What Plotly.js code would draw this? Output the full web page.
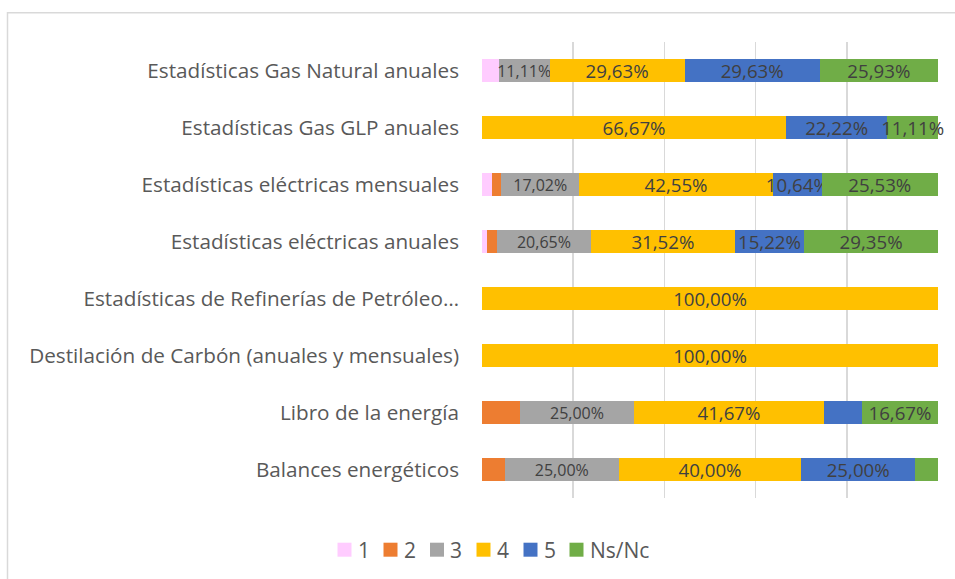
<!DOCTYPE html>
<html>
<head>
<meta charset="utf-8">
<script src="https://cdn.plot.ly/plotly-3.0.1.min.js"></script>
<style>
  html, body { margin: 0; padding: 0; background: #ffffff; }
  #chart { width: 955px; height: 579px; }
</style>
</head>
<body>
<div id="chart"></div>
<script>
const categories = [
  "Estadísticas Gas Natural anuales",
  "Estadísticas Gas GLP anuales",
  "Estadísticas eléctricas mensuales",
  "Estadísticas eléctricas anuales",
  "Estadísticas de Refinerías de Petróleo…",
  "Destilación de Carbón (anuales y mensuales)",
  "Libro de la energía",
  "Balances energéticos"
];
const seriesNames = ["1", "2", "3", "4", "5", "Ns/Nc"];
const s1   = [3.70, 0,     2.13,  1.09,  0,   0,   0,     0];
const s2   = [0,    0,     2.13,  2.17,  0,   0,   8.33,  5.00];
const s3   = [11.11, 0,    17.02, 20.65, 0,   0,   25.00, 25.00];
const s4   = [29.63, 66.67, 42.55, 31.52, 100.00, 100.00, 41.67, 40.00];
const s5   = [29.63, 22.22, 10.64, 15.22, 0,   0,   8.33,  25.00];
const sNs  = [25.93, 11.11, 25.53, 29.35, 0,   0,   16.67, 5.00];
const seriesValues = [s1, s2, s3, s4, s5, sNs];
const colors = ["#FFCCFF", "#ED7D31", "#A5A5A5", "#FFC000", "#4472C4", "#70AD47"];
const labelSizes = [18.7, 18.7, 16, 18.7, 18.7, 18.7];

function fmt(v) {
  return v >= 10 ? v.toFixed(2).replace('.', ',') + '%' : '';
}

const traces = seriesValues.map((vals, i) => ({
  type: 'bar',
  orientation: 'h',
  name: seriesNames[i],
  y: categories,
  x: vals.map(v => v / 100),
  text: vals.map(fmt),
  textposition: 'inside',
  insidetextanchor: 'middle',
  textangle: 0,
  constraintext: 'none',
  cliponaxis: false,
  textfont: { family: 'Open Sans, sans-serif', size: labelSizes[i], color: '#404040' },
  marker: { color: colors[i], line: { width: 0 } },
  hoverinfo: 'skip',
  showlegend: false
}));

// Plot-area geometry (pixels) used to place the legend built from seriesNames/colors
const PL = 482, PR = 938, PT = 42, PB = 498;
const px2x = px => (px - PL) / (PR - PL);
const py2y = py => (PB - py) / (PB - PT);
const legendLeft = [337.5, 383.5, 430, 476.5, 523.5, 569.5];
const legendCY = 549.7, sq = 14;

const legendShapes = seriesNames.map((n, i) => ({
  type: 'rect', xref: 'paper', yref: 'paper',
  x0: px2x(legendLeft[i]), x1: px2x(legendLeft[i] + sq),
  y0: py2y(legendCY + sq / 2), y1: py2y(legendCY - sq / 2),
  fillcolor: colors[i], line: { width: 0 }
}));
const legendText = seriesNames.map((n, i) => ({
  xref: 'paper', yref: 'paper',
  x: px2x(legendLeft[i] + 18), y: py2y(legendCY),
  xanchor: 'left', yanchor: 'middle',
  text: n, showarrow: false,
  font: { family: 'Open Sans, sans-serif', size: 21, color: '#595959' }
}));

const layout = {
  width: 955,
  height: 579,
  barmode: 'stack',
  bargap: 0.6,
  paper_bgcolor: '#ffffff',
  plot_bgcolor: '#ffffff',
  margin: { l: PL, r: 955 - PR, t: PT, b: 579 - PB, pad: 0 },
  font: { family: 'Open Sans, sans-serif', color: '#595959' },
  xaxis: {
    range: [0, 1],
    dtick: 0.2,
    tick0: 0,
    showgrid: true,
    gridcolor: '#D9D9D9',
    gridwidth: 1.5,
    zeroline: false,
    showticklabels: false,
    showline: false,
    fixedrange: true
  },
  yaxis: {
    autorange: 'reversed',
    type: 'category',
    showgrid: false,
    zeroline: false,
    showline: false,
    ticks: '',
    ticklabelstandoff: 22,
    tickfont: { family: 'Open Sans, sans-serif', size: 20.7, color: '#595959' },
    fixedrange: true
  },
  showlegend: false,
  annotations: legendText,
  shapes: [{
    type: 'rect',
    xref: 'paper', yref: 'paper',
    x0: px2x(7.5), x1: 1.2,
    y0: -0.3, y1: py2y(12.7),
    line: { color: '#D9D9D9', width: 1.5 },
    fillcolor: 'rgba(0,0,0,0)',
    layer: 'below'
  }].concat(legendShapes)
};

Plotly.newPlot('chart', traces, layout, { displayModeBar: false, staticPlot: true });
</script>
</body>
</html>
